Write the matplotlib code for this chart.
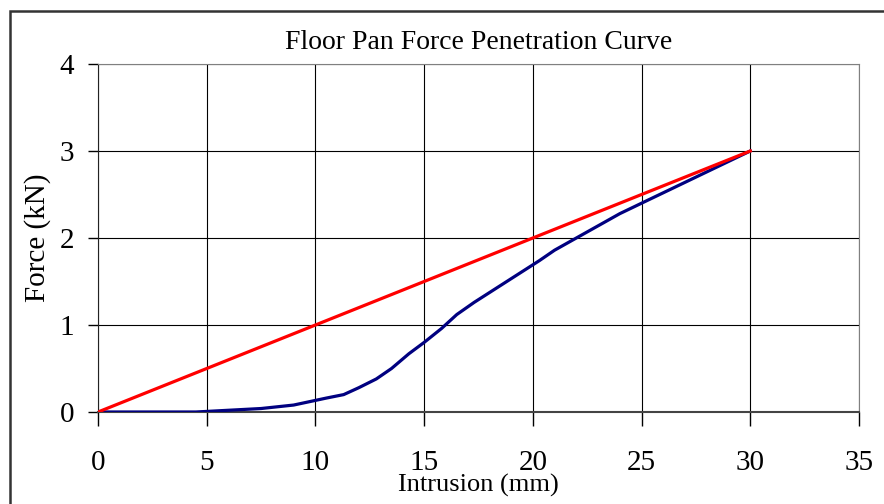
import matplotlib.pyplot as plt
from matplotlib.patches import Rectangle

intrusion = [0, 4.5, 6, 7.5, 9, 10.5, 11.3, 12, 12.8, 13.5, 14.3, 15, 15.8, 16.5,
             17.3, 18.8, 20.3, 21, 22.5, 24, 25.5, 27, 28.5, 30]
force = [0, 0, 0.02, 0.04, 0.08, 0.16, 0.2, 0.28, 0.38, 0.5, 0.67, 0.8, 0.96, 1.12,
         1.26, 1.5, 1.74, 1.86, 2.07, 2.28, 2.46, 2.64, 2.82, 3.0]

# linear reference line
lin_x = [0, 30]
lin_y = [0, 3]

x_ticks = [0, 5, 10, 15, 20, 25, 30, 35]
y_ticks = [0, 1, 2, 3, 4]

plt.rcParams['font.family'] = ['Liberation Serif', 'DejaVu Serif']

fig = plt.figure(figsize=(8.84, 5.04), dpi=100)
ax = fig.add_axes([98 / 884, 92 / 504, 761 / 884, 348 / 504])

# figure border (cut off on right/bottom like the original)
fig.patches.append(Rectangle((10 / 884, -0.1), 1.2, (504 - 11) / 504 + 0.1,
                             transform=fig.transFigure, fill=False,
                             edgecolor='#333333', linewidth=1.8))

ax.plot(intrusion, force, color='#000080', linewidth=2.3, zorder=3)
ax.plot(lin_x, lin_y, color='#ff0000', linewidth=2.3, zorder=4)

ax.set_xlim(0, 35)
ax.set_ylim(0, 4)
ax.set_xticks(x_ticks)
ax.set_yticks(y_ticks)
ax.grid(True, color='black', linewidth=0.8)
ax.set_axisbelow(True)

for side in ['top', 'right']:
    ax.spines[side].set_color('#808080')
ax.spines['left'].set_color('#222222')
ax.spines['bottom'].set_color('#444444')
ax.spines['bottom'].set_linewidth(1.5)

ax.tick_params(axis='x', direction='out', length=10, width=1, pad=17, labelsize=21)
ax.tick_params(axis='y', direction='out', length=7, width=1, pad=10, labelsize=21)

ax.set_title('Floor Pan Force Penetration Curve', fontsize=20, pad=11)
ax.set_xlabel('Intrusion (mm)', fontsize=19, labelpad=-1)
ax.set_ylabel('Force (kN)', fontsize=21, labelpad=6)

fig.savefig('out.png', dpi=100)
